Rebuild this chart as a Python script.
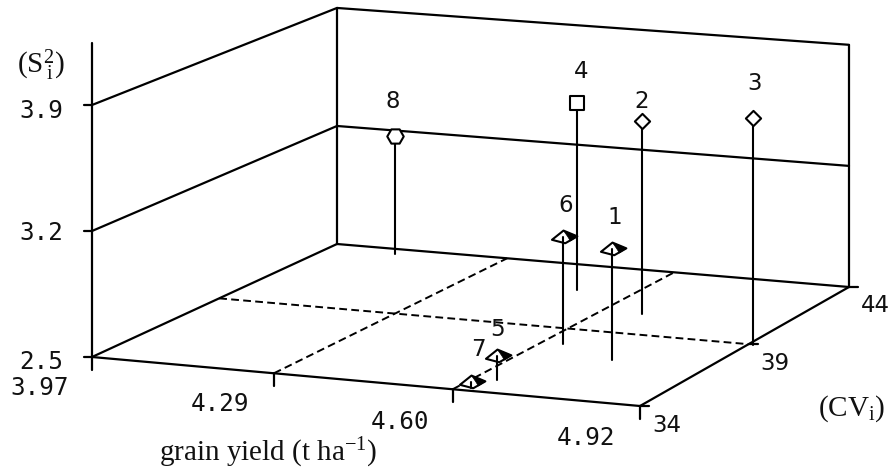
import numpy as np, pandas as pd, seaborn as sns
import matplotlib
matplotlib.use("Agg")
import matplotlib.pyplot as plt
from matplotlib.path import Path

genotypes = ["1", "2", "3", "4", "5", "6", "7", "8"]
grain_yield = [4.756, 4.672, 4.929, 4.50, 4.64, 4.637, 4.623, 4.097]
cv_values = [37.0, 40.56, 38.97, 41.97, 34.9, 37.84, 34.2, 43.59]
s2_values = [3.113, 3.595, 3.764, 3.577, 2.631, 3.096, 2.533, 3.195]
marker_kind = ["tri", "dia", "dia", "sq", "tri", "tri", "tri", "hex"]

yield_ticks = [3.97, 4.29, 4.60, 4.92]
cv_ticks = [34, 39, 44]
s2_ticks = [2.5, 3.2, 3.9]

sns.set_style("white")
plt.rcParams["mathtext.default"] = "regular"

# oblique view of the box: floor corners and vertical scale
corner_px = np.array([[92, 357], [640, 406], [849, 287], [337, 244]], float)
unit_height = [180, 186, 173, 168.6]
Y0, Y1, C0, C1, Z0 = 3.97, 4.92, 34, 44, 2.5

src = [(0, 0), (1, 0), (1, 1), (0, 1)]
A, b = [], []
for (u, v), (x, y) in zip(src, corner_px):
    A.append([u, v, 1, 0, 0, 0, -u * x, -v * x]); b.append(x)
    A.append([0, 0, 0, u, v, 1, -u * y, -v * y]); b.append(y)
H = np.append(np.linalg.solve(np.array(A), np.array(b)), 1).reshape(3, 3)


def proj(gy, cv, z=Z0):
    u = (gy - Y0) / (Y1 - Y0)
    v = (cv - C0) / (C1 - C0)
    w = H @ [u, v, 1]
    h = ((1 - u) * (1 - v) * unit_height[0] + u * (1 - v) * unit_height[1]
         + u * v * unit_height[2] + (1 - u) * v * unit_height[3])
    return w[0] / w[2], w[1] / w[2] - (z - Z0) * h


fig = plt.figure(figsize=(8.91, 4.72), dpi=100)
ax = fig.add_axes([0, 0, 1, 1])
ax.set_xlim(0, 891)
ax.set_ylim(472, 0)
ax.axis("off")

LW = 1.6


def seg(p, q, **kw):
    kw.setdefault("color", "black")
    kw.setdefault("lw", LW)
    kw.setdefault("solid_capstyle", "round")
    kw.setdefault("zorder", 1)
    ax.plot([p[0], q[0]], [p[1], q[1]], **kw)


# walls and floor
seg(proj(Y0, C0), proj(Y1, C0))
seg(proj(Y1, C0), proj(Y1, C1))
seg(proj(Y0, C0), proj(Y0, C1))
seg(proj(Y0, C1), proj(Y1, C1))
seg(proj(Y0, C1), proj(Y0, C1, 3.9))
seg(proj(Y1, C1), proj(Y1, C1, 3.9))
seg(proj(Y0, C0), proj(Y0, C0, 4.244))
for z in s2_ticks[1:]:
    seg(proj(Y0, C0, z), proj(Y0, C1, z))
    seg(proj(Y0, C1, z), proj(Y1, C1, z))
# floor grid
for gy in yield_ticks[1:3]:
    seg(proj(gy, C0), proj(gy, C1), ls=(0, (4, 2.2)), lw=1.4)
seg(proj(Y0, 39), proj(Y1, 39), ls=(0, (4, 2.2)), lw=1.4)

# ticks
for z in s2_ticks:
    x, y = proj(Y0, C0, z)
    seg((x - 8, y), (x, y))
for gy in yield_ticks:
    x, y = proj(gy, C0)
    seg((x, y), (x, y + 13))
for cv in cv_ticks:
    x, y = proj(Y1, cv)
    seg((x, y), (x + 9, y))

# genotypes
pts = pd.DataFrame({"g": genotypes, "gy": grain_yield, "cv": cv_values, "s2": s2_values, "kind": marker_kind})
xy_base = [proj(a, c) for a, c in zip(pts.gy, pts.cv)]
xy_top = [proj(a, c, z) for a, c, z in zip(pts.gy, pts.cv, pts.s2)]
pts["x"] = [p[0] for p in xy_top]
pts["y"] = [p[1] for p in xy_top]
pts["y0"] = [p[1] for p in xy_base]
stems = pd.concat([pts.assign(py=pts.y), pts.assign(py=pts.y0)])
sns.lineplot(data=stems, x="x", y="py", units="g", estimator=None, color="black", lw=1.5,
             sort=False, legend=False, ax=ax, zorder=3)

kite = Path([(-1, -.2), (0, .6), (1.2, .1), (.15, -.5), (-1, -.2)], closed=True)
wedge = Path([(0, .6), (1.2, .1), (.6, -.3), (.35, .1), (0, .6)], closed=True)
marks = {"dia": "D", "sq": "s", "hex": "H"}
sizes = {"dia": 60, "sq": 110, "hex": 140}
for kind, grp in pts.groupby("kind"):
    if kind == "tri":
        sns.scatterplot(data=grp, x="x", y="y", marker=kite, s=397, color="white",
                        edgecolor="black", linewidth=1.5, ax=ax, zorder=2.5, legend=False)
        sns.scatterplot(data=grp, x="x", y="y", marker=wedge, s=397, color="black", edgecolor="black",
                        linewidth=0.5, ax=ax, zorder=4, legend=False)
    else:
        sns.scatterplot(data=grp, x="x", y="y", marker=marks[kind], s=sizes[kind], color="white",
                        edgecolor="black", linewidth=1.5, ax=ax, zorder=5, legend=False)
ax.set_xlim(0, 891)
ax.set_ylim(472, 0)
ax.set_xlabel("")
ax.set_ylabel("")

# labels
num = dict(family="DejaVu Sans", fontsize=16.5, color="#111111", ha="center", va="center", zorder=6)
label_px = {"1": (615, 218), "2": (642, 102), "3": (755, 84), "4": (581, 71),
            "5": (497, 329), "6": (566, 205), "7": (478, 350), "8": (393, 102)}
for g in genotypes:
    ax.text(*label_px[g], g, **num)

mono = dict(family="DejaVu Sans Mono", fontsize=17.5, color="#111111", ha="center", va="center")
for t, (x, y) in zip(s2_ticks, [(41, 362), (41, 233), (41, 111)]):
    ax.text(x, y, f"{t:.1f}", **mono)
for t, (x, y) in zip(yield_ticks, [(40, 388), (220, 404), (400, 422), (586, 438)]):
    ax.text(x, y, f"{t:.2f}", **mono)
for t, (x, y) in zip(cv_ticks, [(667, 426), (775, 364), (875, 306)]):
    ax.text(x, y, str(t), **num)

serif = dict(family="Liberation Serif", fontsize=21, color="#111111", ha="center", va="center")
ax.text(41, 65, r"(S$^{2}_{\,i}$)", **serif)
ax.text(852, 409, r"(CV$_{i}$)", **serif)
ax.text(268, 453, r"grain yield (t ha$^{-1}$)", **serif)

fig.savefig("out.png", dpi=100)
